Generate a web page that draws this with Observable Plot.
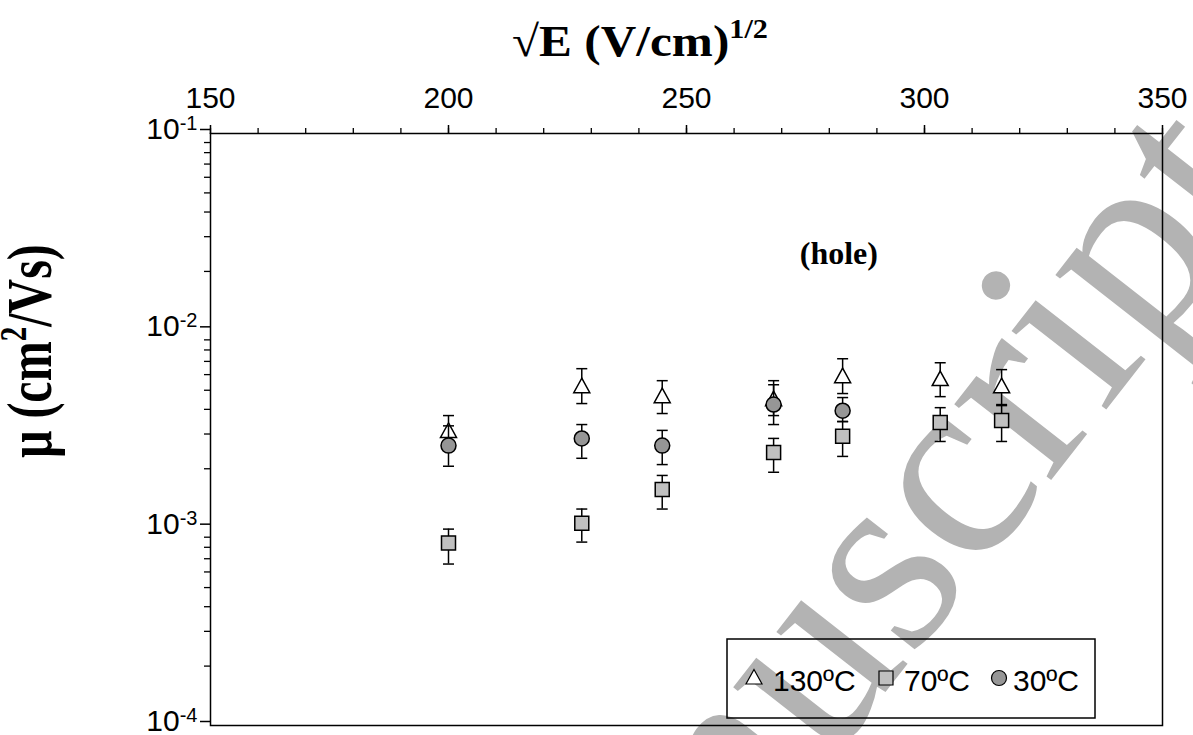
<!DOCTYPE html>
<html>
<head>
<meta charset="utf-8">
<script src="https://cdn.jsdelivr.net/npm/d3@7"></script>
<script src="https://cdn.jsdelivr.net/npm/@observablehq/plot@0.6"></script>
<style>
  body { margin: 0; background: #fff; }
  #chart { position: relative; width: 1193px; height: 735px; }
</style>
</head>
<body>
<div id="chart"></div>
<script>
// ---- data ----
const sqrtE = [200, 228.0, 244.9, 268.3, 282.8, 303.3, 316.2];
const seriesNames = ["130ºC", "70ºC", "30ºC"];
const seriesFills = ["white", "#c0c0c0", "#969696"];
const mu130 = [3.09e-3, 5.21e-3, 4.64e-3, 4.48e-3, 5.86e-3, 5.66e-3, 5.21e-3];
const lo130 = [2.57e-3, 4.28e-3, 3.81e-3, 3.72e-3, 4.81e-3, 4.64e-3, 4.18e-3];
const hi130 = [3.72e-3, 6.43e-3, 5.59e-3, 5.59e-3, 7.22e-3, 6.89e-3, 6.36e-3];
const mu70 = [8.40e-4, 1.06e-3, 1.57e-3, 2.42e-3, 2.92e-3, 3.43e-3, 3.51e-3];
const lo70 = [6.58e-4, 8.5e-4, 1.25e-3, 1.92e-3, 2.31e-3, 2.75e-3, 2.75e-3];
const hi70 = [9.89e-4, 1.25e-3, 1.85e-3, 2.85e-3, 3.47e-3, 4.08e-3, 4.23e-3];
const mu30 = [2.62e-3, 2.85e-3, 2.62e-3, 4.23e-3, 3.94e-3];
const lo30 = [2.06e-3, 2.26e-3, 2.10e-3, 3.35e-3, 3.47e-3];
const hi30 = [3.30e-3, 3.35e-3, 3.13e-3, 5.33e-3, 4.59e-3];
const xMajor = [150, 200, 250, 300, 350];
const xMinor = [150,160,170,180,190,200,210,220,230,240,250,260,270,280,290,300,310,320,330,340,350];
const yMajor = [1e-4, 1e-3, 1e-2, 1e-1];
const yMinorMult = [2,3,4,5,6,7,8,9];
const annotText = ["(hole)"];
const annotX = [282];
const annotY = [0.0245];

// ---- tables ----
function rows(mu, lo, hi, s) {
  return mu.map((v, i) => ({x: sqrtE[i], y: v, lo: lo[i], hi: hi[i], s}));
}
const d130 = rows(mu130, lo130, hi130, seriesNames[0]);
const d70 = rows(mu70, lo70, hi70, seriesNames[1]);
const d30 = rows(mu30, lo30, hi30, seriesNames[2]);
const yMinor = [];
for (const d of [1e-4, 1e-3, 1e-2]) for (const m of yMinorMult) yMinor.push(d * m);

// ---- custom symbols (pixel geometry) ----
const capSym = {draw(ctx) { ctx.moveTo(-5.5, 0); ctx.lineTo(5.5, 0); }};
const triSym = {draw(ctx) { ctx.moveTo(0, -8.5); ctx.lineTo(8, 6); ctx.lineTo(-8, 6); ctx.closePath(); }};
const sqSym = {draw(ctx) { ctx.rect(-7, -7, 14, 14); }};
const circSym = {draw(ctx) { ctx.moveTo(7.5, 0); ctx.arc(0, 0, 7.5, 0, 2 * Math.PI); }};
const symbols = [triSym, sqSym, circSym];

function seriesMarks(data, sym, fill) {
  return [
    Plot.ruleX(data, {x: "x", y1: "lo", y2: "hi", stroke: "black", strokeWidth: 1.5}),
    Plot.dot(data, {x: "x", y: "lo", symbol: capSym, stroke: "black", strokeWidth: 1.5, r: 5}),
    Plot.dot(data, {x: "x", y: "hi", symbol: capSym, stroke: "black", strokeWidth: 1.5, r: 5}),
    Plot.dot(data, {x: "x", y: "y", symbol: sym, fill: fill, stroke: "black", strokeWidth: 1.5, r: 5})
  ];
}

const chart = Plot.plot({
  width: 1193,
  height: 735,
  marginLeft: 210,
  marginRight: 31,
  marginTop: 133,
  marginBottom: 10,
  style: {background: "transparent", fontFamily: "'Liberation Sans', Arial, sans-serif", color: "black", overflow: "visible"},
  x: {domain: [150, 350]},
  y: {type: "log", domain: [1e-4, 1e-1]},
  marks: [
    Plot.axisX(xMinor, {anchor: "top", tickSize: 6, tickFormat: () => "", label: null, strokeWidth: 1.3}),
    Plot.axisX(xMajor, {anchor: "top", tickSize: 9, tickPadding: 17, fontSize: 30, label: null, strokeWidth: 1.5, tickFormat: d => String(d)}),
    Plot.axisY(yMinor, {anchor: "left", tickSize: 6, tickFormat: () => "", label: null, strokeWidth: 1.3}),
    Plot.axisY(yMajor, {anchor: "left", tickSize: 10, tickPadding: 3, fontSize: 30, label: null, strokeWidth: 1.5, dy: -4,
      tickFormat: d => "10|" + Math.round(Math.log10(d))}),
    ...seriesMarks(d130, symbols[0], seriesFills[0]),
    ...seriesMarks(d70, symbols[1], seriesFills[1]),
    ...seriesMarks(d30, symbols[2], seriesFills[2]),
    Plot.text(annotText, {x: () => annotX[0], y: () => annotY[0], text: d => d, fontSize: 32, fontWeight: "bold",
      fontFamily: "'Liberation Serif', 'Times New Roman', serif", fill: "black"}),
    Plot.frame({stroke: "black", strokeWidth: 1.5})
  ]
});
document.getElementById("chart").appendChild(chart);

const svg = d3.select(chart);
const NS = "http://www.w3.org/2000/svg";
const SERIF = "'Liberation Serif', 'Times New Roman', serif";

// superscript exponents on y tick labels
svg.selectAll("text").each(function() {
  const t = this.textContent;
  if (/^10\|/.test(t)) {
    const exp = t.split("|")[1];
    const el = d3.select(this);
    el.text("");
    el.append("tspan").text("10");
    el.append("tspan").attr("font-size", 20).attr("dy", "-0.45em").text(exp);
  }
});

// watermark (behind everything)
const wm = document.createElementNS(NS, "text");
wm.setAttribute("transform", "translate(1277,191) rotate(-52)");
wm.setAttribute("text-anchor", "end");
wm.setAttribute("font-family", SERIF);
wm.setAttribute("font-size", 268);
wm.setAttribute("fill", "#b3b3b3");
wm.textContent = "Manuscript";
chart.insertBefore(wm, chart.firstChild);

// title (stretched horizontally like the reference)
const title = svg.append("text")
  .attr("x", 0).attr("y", 0).attr("text-anchor", "start")
  .attr("font-family", SERIF)
  .attr("font-weight", "bold").attr("font-size", 44).attr("fill", "black");
title.append("tspan").text("√E (V/cm)");
title.append("tspan").attr("font-size", 27).attr("dy", -18).text("1/2");
const tw = title.node().getBBox().width;
title.attr("transform", `translate(512,56) scale(${256 / tw},1)`);

// y label
const ylab = svg.append("text")
  .attr("transform", "translate(51,351) scale(1.3,1) rotate(-90)")
  .attr("text-anchor", "middle")
  .attr("font-family", SERIF)
  .attr("font-weight", "bold").attr("font-size", 48).attr("fill", "black");
ylab.append("tspan").text("μ (cm");
ylab.append("tspan").attr("font-size", 29).attr("dy", -19).text("2");
ylab.append("tspan").attr("dy", 19).text("/Vs)");

// legend
const lg = svg.append("g");
lg.append("rect").attr("x", 727).attr("y", 639).attr("width", 368).attr("height", 79)
  .attr("fill", "none").attr("stroke", "black").attr("stroke-width", 1.5);
const legSymX = [754, 886, 999];
const legTxtX = [773, 904, 1013];
seriesNames.forEach((name, i) => {
  const p = d3.path();
  symbols[i].draw(p);
  lg.append("path").attr("d", p.toString())
    .attr("transform", `translate(${legSymX[i]},678)`)
    .attr("fill", seriesFills[i]).attr("stroke", "black").attr("stroke-width", 1.2);
  lg.append("text").attr("x", legTxtX[i]).attr("y", 691).attr("text-anchor", "start")
    .attr("font-family", "'Liberation Sans', Arial, sans-serif").attr("font-size", 30)
    .attr("fill", "black").text(name);
});
</script>
</body>
</html>
